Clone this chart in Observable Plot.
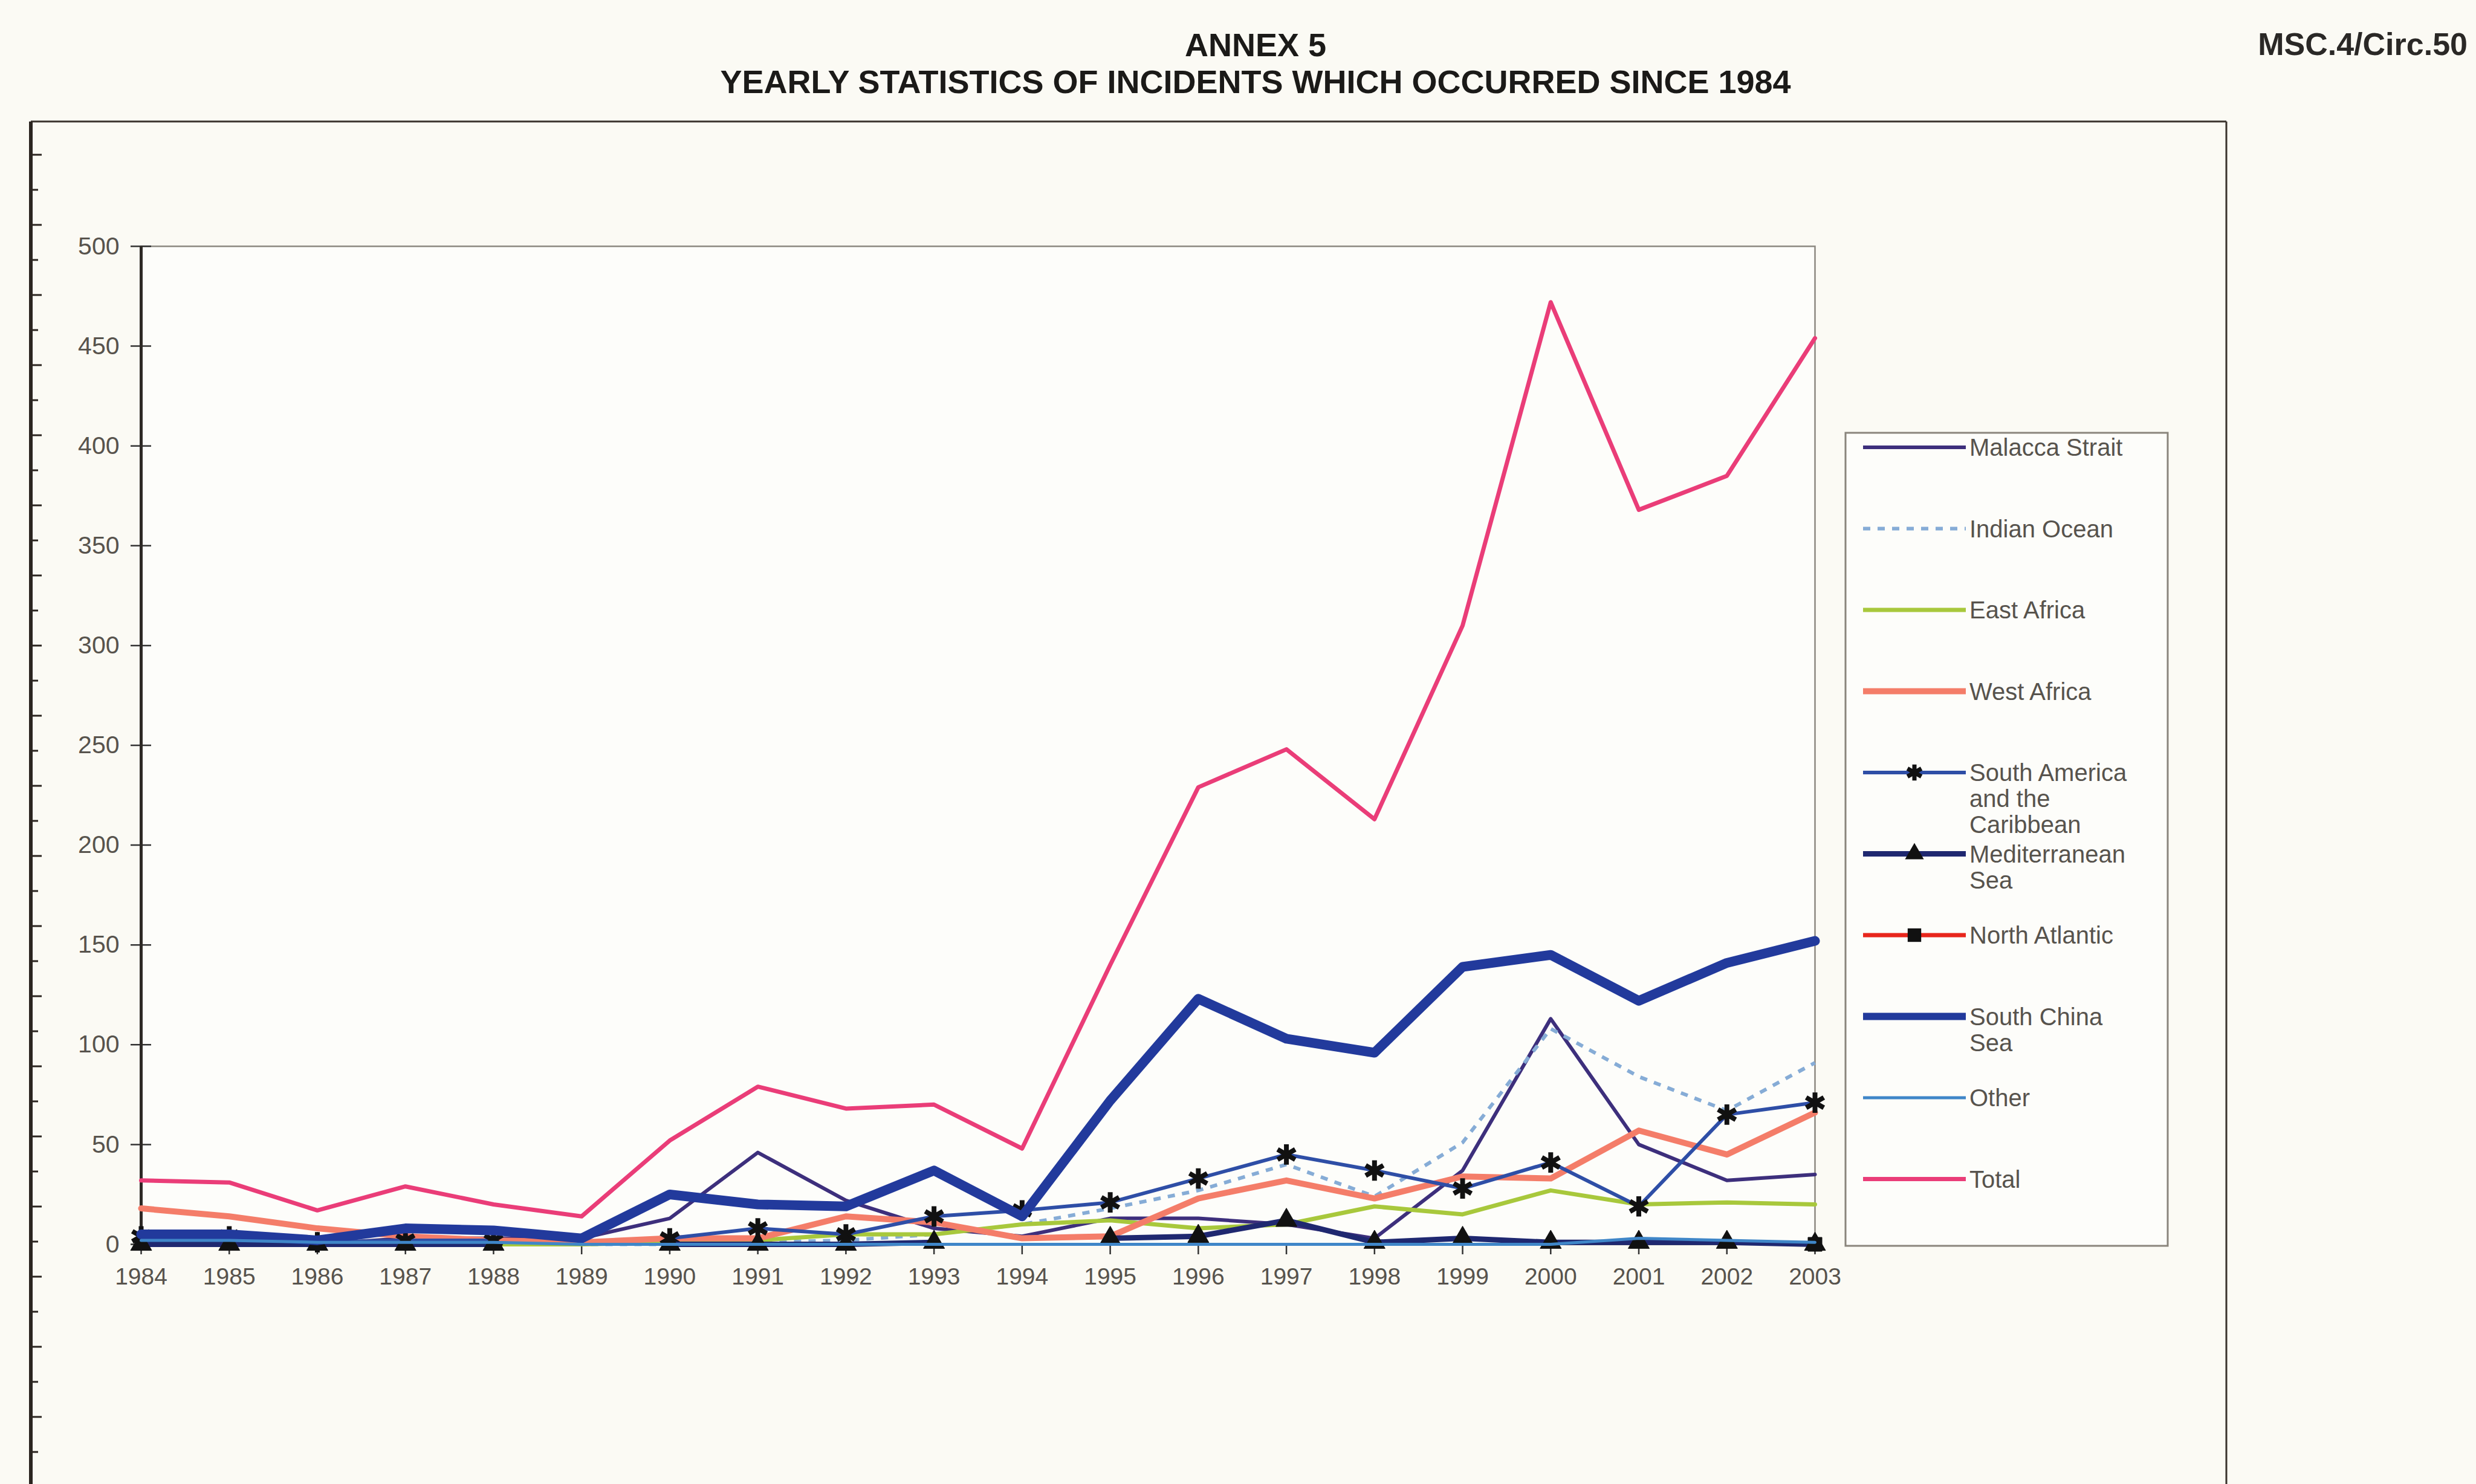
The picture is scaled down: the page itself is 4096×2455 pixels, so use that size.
<!DOCTYPE html>
<html>
<head>
<meta charset="utf-8">
<script src="https://cdn.jsdelivr.net/npm/d3@7"></script>
<script src="https://cdn.jsdelivr.net/npm/@observablehq/plot@0.6"></script>
<style>
  html, body { margin: 0; padding: 0; }
  body { width: 4096px; height: 2455px; overflow: hidden; position: relative; background: #fbfaf4;
         font-family: "Liberation Sans", Arial, sans-serif; }
  #chart, #overlay { position: absolute; left: 0; top: 0; }
  #overlay { pointer-events: none; }
</style>
</head>
<body>
<div id="chart"></div>
<div id="overlay"></div>
<script>
// ---------------- data ----------------
const years = [1984,1985,1986,1987,1988,1989,1990,1991,1992,1993,1994,1995,1996,1997,1998,1999,2000,2001,2002,2003];
const yTicks = [0,50,100,150,200,250,300,350,400,450,500];

const seriesNames = ["Malacca Strait","Indian Ocean","East Africa","West Africa",
  "South America and the Caribbean","Mediterranean Sea","North Atlantic","South China Sea","Other","Total"];
const legendLabels = [["Malacca Strait"],["Indian Ocean"],["East Africa"],["West Africa"],
  ["South America","and the","Caribbean"],["Mediterranean","Sea"],["North Atlantic"],["South China","Sea"],["Other"],["Total"]];

const malacca       = [2,2,0,3,3,3,13,46,22,8,4,13,13,10,3,37,113,50,32,35];
const indianOcean   = [0,0,0,0,0,0,0,1,2,5,10,18,27,40,24,51,108,84,67,91];
const eastAfrica    = [0,0,0,0,0,0,1,2,5,5,10,12,8,10,19,15,27,20,21,20];
const westAfrica    = [18,14,8,4,2,1,3,3,14,11,3,4,23,32,23,34,33,57,45,66];
const southAmerica  = [4,4,1,2,2,null,3,8,5,14,17,21,33,45,37,28,41,19,65,71];
const mediterranean = [0,0,0,0,0,null,0,0,0,1,null,3,4,12,1,3,1,1,1,0];
const northAtlantic = [null,null,null,null,null,null,null,null,null,null,null,null,null,null,null,null,null,null,null,0];
const southChinaSea = [5,5,2,8,7,3,25,20,19,37,14,72,123,103,96,139,145,122,141,152];
const other         = [2,2,1,1,1,0,0,0,0,0,0,0,0,0,0,0,0,3,2,1];
const total         = [32,31,17,29,20,14,52,79,68,70,48,140,229,248,213,310,472,368,385,454];

const seriesValues = [malacca, indianOcean, eastAfrica, westAfrica, southAmerica,
  mediterranean, northAtlantic, southChinaSea, other, total];

// ---------------- styles ----------------
const styles = [
  {stroke: "#3d2f7c", width: 6},
  {stroke: "#86acd6", width: 6, dash: "12,12"},
  {stroke: "#a8c83c", width: 7},
  {stroke: "#f47d69", width: 10},
  {stroke: "#2e4ea6", width: 6, symbol: "asterisk"},
  {stroke: "#1f2870", width: 9, symbol: "triangle"},
  {stroke: "#e8261c", width: 7, symbol: "square"},
  {stroke: "#223a9c", width: 16},
  {stroke: "#3f86c8", width: 5},
  {stroke: "#ea3d78", width: 7}
];

const W = 4096, H = 2455;
const plotLeft = 233, plotRight = 3002, plotTop = 407, plotBottom = 2058;
const textColor = "#57534d";
const fontFamily = "'Liberation Sans', Arial, sans-serif";

const tables = seriesNames.map((name, s) =>
  years.map((year, i) => ({series: name, year, value: seriesValues[s][i]})));

const seriesMarks = [];
tables.forEach((rows, s) => {
  const st = styles[s];
  seriesMarks.push(Plot.line(rows, {
    x: "year", y: "value", stroke: st.stroke, strokeWidth: st.width,
    strokeDasharray: st.dash, strokeLinejoin: "round", strokeLinecap: st.dash ? "butt" : "round"
  }));
  if (st.symbol) {
    const pts = rows.filter(d => d.value != null);
    if (st.symbol === "asterisk") {
      seriesMarks.push(Plot.dot(pts, {x: "year", y: "value", symbol: "asterisk", r: 16, stroke: "#111", strokeWidth: 8}));
    } else {
      seriesMarks.push(Plot.dot(pts, {x: "year", y: "value", symbol: st.symbol, r: 13, fill: "#111", stroke: "#111", strokeWidth: 1}));
    }
  }
});

const chart = Plot.plot({
  width: W, height: H,
  marginLeft: plotLeft, marginRight: W - plotRight, marginTop: plotTop, marginBottom: H - plotBottom,
  style: {background: "transparent", fontFamily, color: textColor},
  x: {domain: [1984, 2003], label: null},
  y: {domain: [0, 500], label: null},
  marks: [
    Plot.frame({stroke: "#8c8880", strokeWidth: 2.5, fill: "#fdfdfa"}),
    Plot.axisY(yTicks, {tickSize: 34, dx: 17, tickFormat: () => "", label: null, stroke: "#333", strokeWidth: 2.5}),
    Plot.axisY(yTicks, {tickSize: 0, tickPadding: 36, fontSize: 41, label: null, fill: textColor}),
    Plot.axisX(years, {tickSize: 17, tickPadding: 22, fontSize: 39, label: null, fill: textColor, stroke: "#333",
                       strokeWidth: 2.5, tickFormat: d => String(d)}),
    Plot.ruleX([1984], {stroke: "#2e2a26", strokeWidth: 5}),
    Plot.ruleY([0], {stroke: "#6a665e", strokeWidth: 3}),
    ...seriesMarks
  ]
});
document.getElementById("chart").appendChild(chart);

// ---------------- overlay: titles, outer frame, legend ----------------
const svg = d3.select("#overlay").append("svg")
  .attr("width", W).attr("height", H)
  .style("font-family", fontFamily);

svg.append("text").attr("x", 2077).attr("y", 93).attr("text-anchor", "middle")
  .attr("font-size", 54).attr("font-weight", "bold").attr("fill", "#1b1a18").text("ANNEX 5");
svg.append("text").attr("x", 2077).attr("y", 154).attr("text-anchor", "middle")
  .attr("font-size", 54).attr("font-weight", "bold").attr("fill", "#1b1a18")
  .text("YEARLY STATISTICS OF INCIDENTS WHICH OCCURRED SINCE 1984");
svg.append("text").attr("x", 4082).attr("y", 91).attr("text-anchor", "end")
  .attr("font-size", 52).attr("font-weight", "bold").attr("fill", "#2a2826").text("MSC.4/Circ.50");

// outer chart frame
const fx0 = 51, fy0 = 201, fx1 = 3683;
svg.append("line").attr("x1", fx0).attr("x2", fx1).attr("y1", fy0).attr("y2", fy0)
  .attr("stroke", "#3a332d").attr("stroke-width", 3);
svg.append("line").attr("x1", fx0).attr("x2", fx0).attr("y1", fy0).attr("y2", H + 10)
  .attr("stroke", "#2b2520").attr("stroke-width", 6);
svg.append("line").attr("x1", fx1).attr("x2", fx1).attr("y1", fy0).attr("y2", H + 10)
  .attr("stroke", "#3a332d").attr("stroke-width", 3);
// ruler ticks on the left frame edge
svg.append("g").selectAll("line").data(d3.range(fy0 + 55, H, 58)).join("line")
  .attr("x1", fx0).attr("x2", (d, i) => fx0 + (i % 2 ? 12 : 18))
  .attr("y1", d => d).attr("y2", d => d)
  .attr("stroke", "#2b2520").attr("stroke-width", 3);

// legend
const lg = {x: 3053, y: 716, w: 533, h: 1345};
const legend = svg.append("g").attr("transform", `translate(${lg.x},${lg.y})`);
legend.append("rect").attr("width", lg.w).attr("height", lg.h)
  .attr("fill", "#fdfdfa").attr("stroke", "#8a857c").attr("stroke-width", 3);
const rowGap = 134.5, rowTop = 24, lineX0 = 29, lineX1 = 199, textX = 205, lineH = 43;
legendLabels.forEach((lines, i) => {
  const st = styles[i];
  const y = rowTop + i * rowGap;
  const g = legend.append("g").attr("transform", `translate(0,${y})`);
  g.append("line").attr("x1", lineX0).attr("x2", lineX1).attr("y1", 0).attr("y2", 0)
    .attr("stroke", st.stroke).attr("stroke-width", Math.min(st.width, 12))
    .attr("stroke-dasharray", st.dash || null);
  const cx = (lineX0 + lineX1) / 2;
  if (st.symbol === "asterisk") {
    g.append("path").attr("transform", `translate(${cx},0)`)
      .attr("d", d3.symbol(d3.symbolAsterisk, 500)()).attr("stroke", "#111").attr("stroke-width", 7);
  } else if (st.symbol === "triangle") {
    g.append("path").attr("transform", `translate(${cx},0)`)
      .attr("d", d3.symbol(d3.symbolTriangle, 420)()).attr("fill", "#111");
  } else if (st.symbol === "square") {
    g.append("path").attr("transform", `translate(${cx},0)`)
      .attr("d", d3.symbol(d3.symbolSquare, 500)()).attr("fill", "#111");
  }
  const t = g.append("text").attr("x", textX).attr("y", 0).attr("font-size", 40).attr("fill", textColor);
  lines.forEach((ln, j) => {
    t.append("tspan").attr("x", textX).attr("y", j * lineH).attr("dy", "0.35em").text(ln);
  });
});
</script>
</body>
</html>
